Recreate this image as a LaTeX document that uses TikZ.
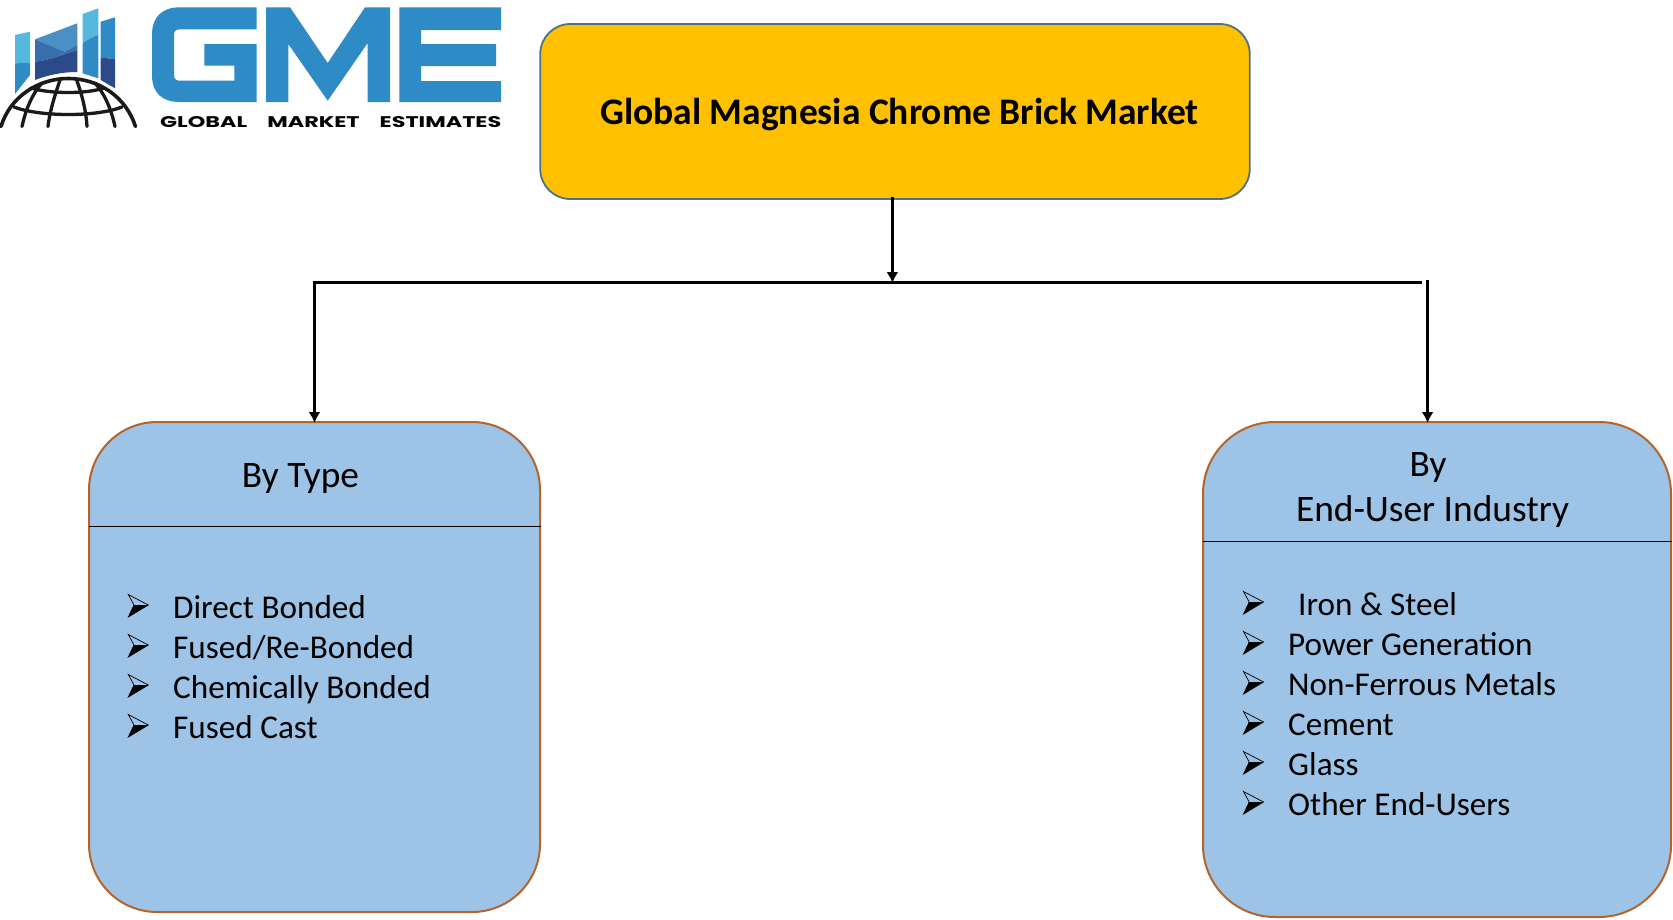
\documentclass[tikz,border=0pt]{standalone}
\usepackage{fontspec}
\usepackage{graphicx}
\setmainfont{Carlito}
\newfontfamily\logofont{Poppins}[UprightFont=* Bold]
\usetikzlibrary{arrows.meta}
\definecolor{gold}{HTML}{FFC000}
\definecolor{goldedge}{HTML}{4F7187}
\definecolor{panel}{HTML}{9DC3E6}
\definecolor{panedge}{HTML}{B5652B}
\definecolor{logoblue}{HTML}{2E8BC6}
\definecolor{logolight}{HTML}{56B8DF}
\definecolor{logomid}{HTML}{3A6FAE}
\definecolor{logotop}{HTML}{4A8FC6}
\definecolor{logodark}{HTML}{2C4A8A}
\definecolor{globe}{HTML}{1C1A18}
\tikzset{
  x=1pt,y=-1pt,
  titlebox/.style={draw=goldedge,line width=1.8pt,fill=gold,rounded corners=30pt,inner sep=0pt,
     minimum width=709.5pt,minimum height=175pt},
  panelbox/.style={draw=panedge,line width=2pt,fill=panel,inner sep=0pt},
  divider/.style={draw=black,line width=1pt},
  trunk/.style={draw=black,line width=3pt},
  feed/.style={draw=black,line width=2.5pt,shorten >=-2pt,-{Latex[length=11pt,width=12pt]}},
  headtext/.style={font=\fontsize{37.4}{44}\selectfont,inner sep=0pt,anchor=base},
  itemtext/.style={font=\fontsize{33.2}{40}\selectfont,inner sep=0pt,anchor=base west},
  globeline/.style={draw=globe,line width=3.3pt,line cap=round},
  bulletmark/.pic={
    \draw[black,line width=0.7pt,line join=miter] (-10,-10.5) -- (10,0) -- (-10,12) -- (-4.3,0) -- cycle;
    \fill[black] (10,0) -- (-10,12) -- (-4.3,0) -- cycle;
  },
}
\begin{document}
\begin{tikzpicture}
\useasboundingbox[fill=white] (0,0) rectangle (1673,919);

% logo bars
\fill[logolight] (15,35) -- (30,31.7) -- (30,63.5) -- (15,64) -- cycle;
\fill[logoblue] (15,64) .. controls (20,62.5) and (25,62.5) .. (30,63.5) -- (30,75) -- (15,94) -- cycle;
\fill[logotop] (35,39.3) -- (77.3,23.3) -- (77.3,45) -- (65,51.7) -- cycle;
\fill[logomid] (35,39.3) -- (65,51.7) -- (77.3,45) -- (77.3,50) .. controls (62,55) and (50,60) .. (35,61.7) -- cycle;
\fill[logodark] (35,61.7) .. controls (50,60) and (62,55) .. (77.3,50) -- (77.3,72) .. controls (62,72) and (48,75) .. (35,80) -- cycle;
\fill[logolight] (82.7,14) -- (98.3,8.3) -- (98.3,35) .. controls (92,37) and (87,40) .. (82.7,43.3) -- cycle;
\fill[logoblue] (82.7,43.3) .. controls (87,40) and (92,37) .. (98.3,35) -- (98.3,78.3) -- (82.7,73.3) -- cycle;
\fill[logoblue] (100.7,21.7) -- (115,17.3) -- (115,59.3) -- (100.7,57.3) -- cycle;
\fill[logodark] (100.7,57.3) -- (115,59.3) -- (115,88.3) -- (100.7,80) -- cycle;
% logo globe
\draw[globeline,line width=3.6pt] (1,126.5) .. controls (10,97) and (38,78.5) .. (68.3,78.5) .. controls (99,78.5) and (126,97) .. (135.5,126.5);
\draw[globeline] (31,88) .. controls (50,94) and (87,94) .. (104,88);
\draw[globeline] (14,107) .. controls (40,117) and (97,117) .. (122,107);
\draw[globeline] (60,80) .. controls (55,95) and (50,110) .. (48,126.5);
\draw[globeline] (76.7,80) .. controls (82,95) and (86,110) .. (87,126.5);
\draw[globeline] (42,83) .. controls (33,93) and (26,108) .. (22,126.5);
\draw[globeline] (95,83) .. controls (104,93) and (111,108) .. (115,126.5);
% logo letters
\fill[logoblue] (256.7,7.3) -- (180,7.3) .. controls (162,7.3) and (152,17) .. (152,35) -- (152,75) .. controls (152,93) and (162,102) .. (180,102) -- (256.7,102) -- (256.7,44) -- (204.3,44) -- (204.3,65.7) -- (234.3,65.7) -- (234.3,80.7) -- (180,80.7) .. controls (176,80.7) and (174,79) .. (174,75) -- (174,35) .. controls (174,31) and (176,29.3) .. (180,29.3) -- (256.7,29.3) -- cycle;
\fill[logoblue] (266,102) -- (266,7.3) -- (290,7.3) -- (327.7,63) -- (365,7.3) -- (390,7.3) -- (390,102) -- (367.7,102) -- (367.7,43) -- (327.7,100.7) -- (288.3,44) -- (288.3,102) -- cycle;
\fill[logoblue] (501,7.3) -- (399.3,7.3) -- (399.3,102) -- (501,102) -- (501,81) -- (421,81) -- (421,66) -- (496,66) -- (496,44) -- (421,44) -- (421,30) -- (501,30) -- cycle;
\node[inner sep=0pt,anchor=base west] (logotext) at (160,127) {\resizebox{341pt}{11pt}{\logofont GLOBAL\hspace{0.9em}MARKET\hspace{0.9em}ESTIMATES}};

% boxes
\node[titlebox] (main) at (895,111.5) {};
\node[font=\fontsize{37.5}{42}\selectfont\bfseries,inner sep=0pt,anchor=base] (maintext) at (899.5,124) {Global Magnesia Chrome Brick Market};
\node[panelbox,rounded corners=68pt,minimum width=451pt,minimum height=490pt] (lbox) at (314.5,667) {};
\node[panelbox,rounded corners=72pt,minimum width=468pt,minimum height=495pt] (rbox) at (1437,669.5) {};

\coordinate (ldivA) at (89,526.7);
\coordinate (ldivB) at (541,526.7);
\draw[divider] (ldivA) -- (ldivB);
\coordinate (rdivA) at (1203,541.5);
\coordinate (rdivB) at (1672,541.5);
\draw[divider] (rdivA) -- (rdivB);

% connectors
\coordinate (mainout) at (892.4,197);
\coordinate (junction) at (892.4,281);
\coordinate (trunkL) at (313,282.5);
\coordinate (trunkR) at (1422,282.5);
\coordinate (dropL) at (314.5,282.5);
\coordinate (dropR) at (1427.6,280);
\coordinate (rboxin) at (1427.6,421);
\draw[trunk] (trunkL) -- (trunkR);
\draw[feed] (mainout) -- (junction);
\draw[feed] (dropL) -- (lbox.north);
\draw[feed] (dropR) -- (rboxin);

% left panel
\node[headtext] (lhead) at (300.5,487.5) {By Type};
\foreach \n/\t [count=\i from 0] in {a/Direct Bonded,b/Fused{/}Re-Bonded,c/Chemically Bonded,d/Fused Cast}{
  \pic at (138.3,605+40*\i) {bulletmark};
  \node[itemtext] (li\n) at (173,618+40*\i) {\t};
}
% right panel
\node[headtext] (rheadA) at (1428,476) {By};
\node[headtext] (rheadB) at (1432.5,521) {End-User Industry};
\pic at (1253.5,602+0) {bulletmark};
\node[itemtext] (ria) at (1298,615) {Iron \& Steel};
\foreach \n/\t [count=\i from 1] in {b/Power Generation,c/Non-Ferrous Metals,d/Cement,e/Glass,f/Other End-Users}{
  \pic at (1253.5,602+40*\i) {bulletmark};
  \node[itemtext] (ri\n) at (1288,615+40*\i) {\t};
}
\end{tikzpicture}
\end{document}
